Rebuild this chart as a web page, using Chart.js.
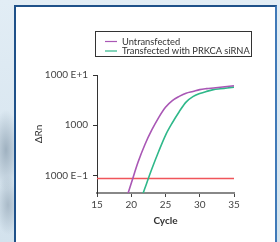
<!DOCTYPE html>
<html>
<head>
<meta charset="utf-8">
<script src="https://cdn.jsdelivr.net/npm/chart.js@4.4.0/dist/chart.umd.min.js"></script>
<style>
  body { margin:0; width:280px; height:242px; overflow:hidden; position:relative;
         background: radial-gradient(ellipse 14px 40px at 6px 150px, #9fb1c0, rgba(217,230,240,0) 100%),
                     radial-gradient(ellipse 12px 30px at 8px 205px, #a9bac8, rgba(217,230,240,0) 100%),
                     linear-gradient(180deg, #e2edf5 0%, #d3e2ed 100%); }
  #panel { position:absolute; left:14px; top:5px; width:259px; height:250px; background:#fff;
           border:2px solid #1f5189; border-bottom:none; border-right-color:#3f79b8; }
  #chart { position:absolute; left:0; top:0; }
</style>
</head>
<body>
<div id="panel"></div>
<canvas id="chart" width="280" height="242"></canvas>
<script>
// cycles and delta Rn values
const cycles = [19, 20, 21, 22, 23, 24, 25, 26, 27, 28, 29, 30, 31, 32, 33, 34, 35];
const untransfected = [26, 70, 185, 414, 804, 1420, 2280, 3090, 3750, 4350, 4710, 5120, 5350, 5520, 5700, 5890, 6090];
const transfected = [null, null, 23, 56, 134, 300, 630, 1120, 1860, 2880, 3700, 4270, 4720, 5110, 5320, 5520, 5740];
const thresholdCycles = [15, 35];
const thresholdLevel = 87;

const xTicks = [15, 20, 25, 30, 35];
const yTickValues = [100, 1000, 10000];
const yTickLabels = ['1000 E\u20131', '1000', '1000 E+1'];

const toPoints = (xs, ys) => xs.map((x, i) => ({x: x, y: ys[i]}));

Chart.defaults.font.family = 'Lato';

// legend drawn in a box like the original
const legendBox = {
  id: 'legendBox',
  afterDraw(chart) {
    const ctx = chart.ctx;
    ctx.save();
    ctx.strokeStyle = '#333';
    ctx.lineWidth = 1;
    ctx.strokeRect(95.5, 31.5, 156, 25);
    chart.data.datasets.filter(d => d.inLegend).forEach((d, i) => {
      const y = 41.5 + i * 9.5;
      ctx.strokeStyle = d.borderColor;
      ctx.lineWidth = 1.2;
      ctx.beginPath();
      ctx.moveTo(105, y);
      ctx.lineTo(117, y);
      ctx.stroke();
      ctx.fillStyle = '#333';
      ctx.font = '9.3px Lato';
      ctx.textBaseline = 'middle';
      ctx.fillText(d.label, 122, y);
    });
    ctx.restore();
  }
};

new Chart(document.getElementById('chart'), {
  type: 'line',
  data: {
    datasets: [
      {
        label: 'Untransfected',
        inLegend: true,
        data: toPoints(cycles, untransfected),
        borderColor: '#a957b5',
        borderWidth: 1.6,
        pointRadius: 0,
        cubicInterpolationMode: 'monotone'
      },
      {
        label: 'Transfected with PRKCA siRNA',
        inLegend: true,
        data: toPoints(cycles, transfected),
        borderColor: '#2fb88a',
        borderWidth: 1.6,
        pointRadius: 0,
        cubicInterpolationMode: 'monotone'
      },
      {
        label: 'Threshold',
        data: toPoints(thresholdCycles, thresholdCycles.map(() => thresholdLevel)),
        borderColor: '#f0555a',
        borderWidth: 1.5,
        pointRadius: 0
      }
    ]
  },
  options: {
    responsive: false,
    devicePixelRatio: 1,
    animation: false,
    layout: { padding: { left: 33, top: 75, right: 46, bottom: 15 } },
    plugins: { legend: { display: false }, tooltip: { enabled: false } },
    scales: {
      x: {
        type: 'linear',
        min: 15,
        max: 35,
        afterBuildTicks: s => { s.ticks = xTicks.map(v => ({value: v})); },
        ticks: { color: '#444', font: { size: 10 }, padding: 2, maxRotation: 0 },
        grid: { drawOnChartArea: false, tickLength: 4, color: '#444' },
        border: { color: '#888', width: 2 },
        title: { display: true, text: 'Cycle', color: '#333', font: { size: 10, weight: 'bold' }, padding: 0 },
        afterFit: s => { s.height = 34; }
      },
      y: {
        type: 'logarithmic',
        min: 44.7,
        max: 10000,
        afterBuildTicks: s => { s.ticks = yTickValues.map(v => ({value: v})); },
        ticks: {
          color: '#444',
          font: { size: 10 },
          padding: 5,
          callback: v => yTickLabels[yTickValues.indexOf(v)]
        },
        grid: { drawOnChartArea: false, tickLength: 4, color: '#333' },
        border: { color: '#333', width: 1 },
        title: { display: true, text: '\u0394Rn', color: '#333', font: { size: 10 }, padding: 0 },
        afterFit: s => { s.width = 64; }
      }
    }
  },
  plugins: [legendBox]
});
</script>
</body>
</html>
